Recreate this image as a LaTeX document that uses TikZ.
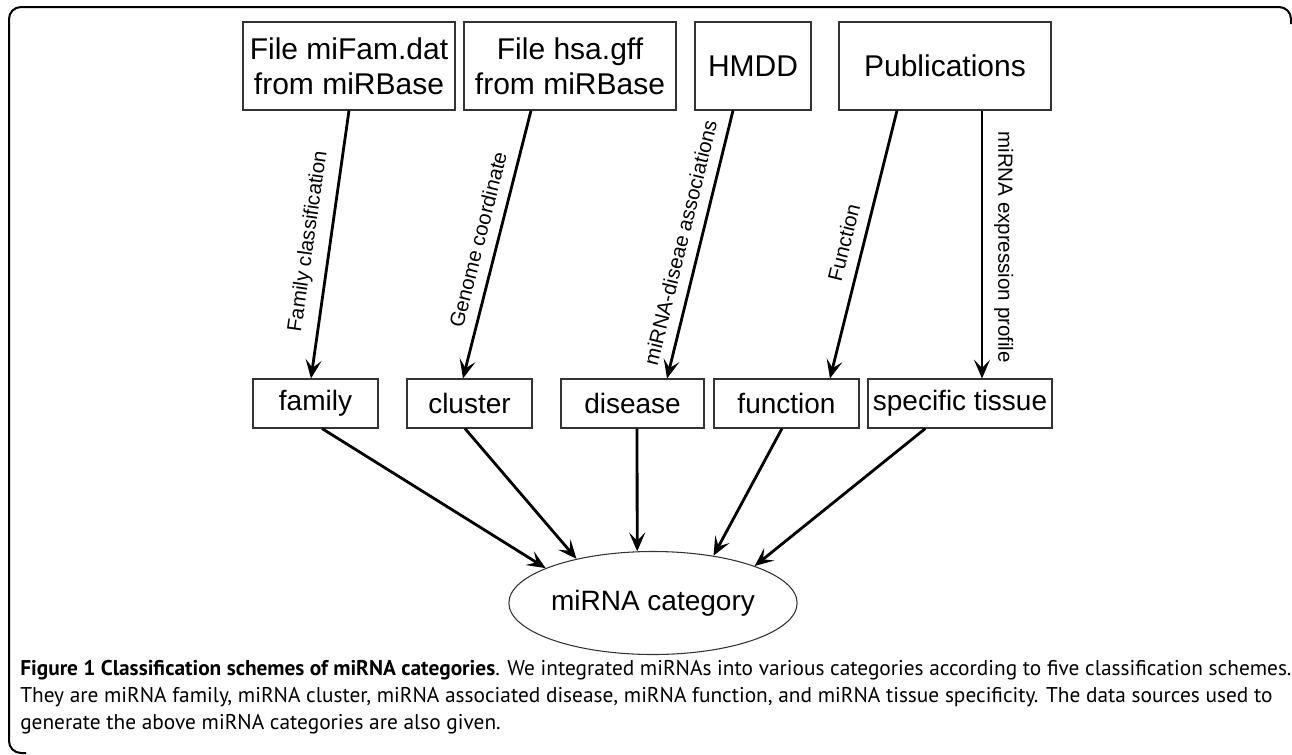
\documentclass[tikz,border=0pt]{standalone}
\usepackage{fontspec}
\setmainfont{Liberation Sans}
\newfontfamily\capfont{PT Sans}
\usetikzlibrary{arrows.meta,shapes.geometric}
\begin{document}
\begin{tikzpicture}[x=.75pt,y=-.75pt,
  box/.style={draw=black!80,line width=.8pt,font=\fontsize{21}{26}\selectfont,align=center,inner sep=0pt},
  src/.style={box,font=\fontsize{22.5}{26}\selectfont,minimum height=66pt},
  arr/.style={line width=2.1pt,-{Stealth[length=14pt,width=12pt,inset=6pt]}},
  lab/.style={sloped,above=8pt,font=\fontsize{15.4}{18}\selectfont,inner sep=0pt}]
\useasboundingbox(0,0)rectangle(1292,754);
\draw[line width=1.5pt,rounded corners=9](1291,24)--(1291,7)--(9,7)--(9,753)--(26,753);
% sources
\node[src,minimum width=159pt](mifam)at(349,66){File miFam.dat\\from miRBase};
\node[src,minimum width=159pt](hsa)at(570,66){File hsa.gff\\from miRBase};
\node[src,minimum width=87pt](hmdd)at(753,66){HMDD};
\node[src,minimum width=159pt](pub)at(945,66){Publications};
% schemes
\node[box,minimum width=93.75pt,minimum height=36.75pt](family)at(315.5,403.5){family};
\node[box,minimum width=93.75pt,minimum height=36.75pt](cluster)at(469.5,403.5){cluster};
\node[box,minimum width=107.25pt,minimum height=36.75pt](disease)at(632.5,403.5){disease};
\node[box,minimum width=108.75pt,minimum height=36.75pt](function)at(786.5,403.5){function};
\node[box,minimum width=138pt,minimum height=36.75pt](tissue)at(960,403.5){specific tissue};
\node[box,ellipse,minimum width=190.5pt,minimum height=77.25pt](cat)at(653,603){miRNA category};
% source -> scheme
\draw[arr](mifam.south)--([xshift=-3.4pt]family.north) node[lab,pos=.5]{Family classification};
\draw[arr]([xshift=-29.25pt]hsa.south)--([xshift=-4.9pt]cluster.north) node[lab,pos=.5]{Genome coordinate};
\draw[arr]([xshift=-15pt]hmdd.south)--([xshift=25.9pt]disease.north) node[lab,pos=.51]{miRNA-diseae associations};
\draw[arr]([xshift=-36pt]pub.south)--([xshift=32.6pt]function.north) node[lab,pos=.51]{Function};
\draw[arr]([xshift=27.75pt]pub.south)--([xshift=16.5pt]tissue.north) node[lab,pos=.51]{miRNA expression profile};
% scheme -> category
\draw[arr]([xshift=4.9pt]family.south)--(cat.162);
\draw[arr]([xshift=-3.4pt]cluster.south)--(cat.150.5);
\draw[arr]([xshift=3.4pt]disease.south)--(cat.107);
\draw[arr]([xshift=-3.4pt]function.south)--(cat.38);
\draw[arr]([xshift=-26pt]tissue.south)--(cat.20);
% caption
\node[anchor=north west,align=left,inner sep=0pt,font=\capfont\fontsize{16}{20.25}\selectfont](caption)at(20,660){\textbf{Figure 1 Classification schemes of miRNA categories}. We integrated miRNAs into various categories according to five classification schemes.\\They are miRNA family, miRNA cluster, miRNA associated disease, miRNA function, and miRNA tissue specificity. The data sources used to\\generate the above miRNA categories are also given.};
\end{tikzpicture}
\end{document}
